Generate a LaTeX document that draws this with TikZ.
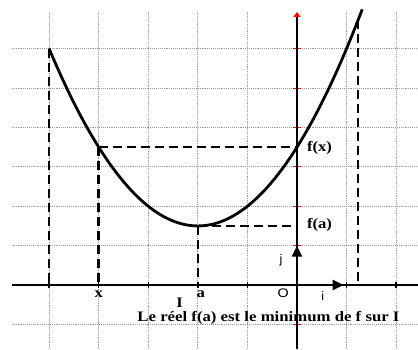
\documentclass[tikz,border=0pt]{standalone}
\usepackage{fontspec}
\usepackage{graphicx}
\setmainfont{Liberation Serif}
\newfontfamily\sansf{Liberation Sans}
\usetikzlibrary{arrows.meta}
\begin{document}
\begin{tikzpicture}[x=49.57bp,y=39.4bp,
  gridline/.style={gray!80,densely dotted,line width=0.9bp},
  axisline/.style={line width=2.4bp,black},
  curveline/.style={line width=2.8bp},
  dashline/.style={line width=2.6bp,dash pattern=on 9bp off 5bp},
  lbl/.style={font=\fontsize{14.5}{14.5}\selectfont\bfseries,inner sep=0pt},
  slbl/.style={font=\sansf\fontsize{12.5}{12.5}\selectfont,inner sep=0pt},
  vec/.style={line width=2.4bp,-{Triangle[length=11bp,width=10bp]}}]
\useasboundingbox (-5.991,-1.624) rectangle (2.441,7.234);
\fill[white] (-5.991,-1.624) rectangle (2.441,7.234);
% grid
\foreach \x in {-5,-4,-3,-2,-1,1,2} \draw[gridline] (\x,-1.624) -- (\x,6.93);
\foreach \y in {-1,1,2,3,4,5,6} \draw[gridline] (-5.75,\y) -- (2.441,\y);
% coordinates
\coordinate (O) at (0,0);
\coordinate (xl) at (-5.75,0);
\coordinate (xr) at (2.441,0);
\coordinate (yb) at (0,-1.624);
\coordinate (yt) at (0,6.93);
\coordinate (A) at (-5,6);
\coordinate (Ax) at (-5,0);
\coordinate (B) at (-4,3.5);
\coordinate (Bx) at (-4,0);
\coordinate (By) at (0,3.5);
\coordinate (M) at (-2,1.5);
\coordinate (Mx) at (-2,0);
\coordinate (My) at (0,1.5);
\coordinate (R) at (1.23,6.73);
\coordinate (Rx) at (1.23,0);
\coordinate (ie) at (0.94,0);
\coordinate (je) at (0,1);
% red ticks on y axis
\foreach \y in {-1,1,2,3,4,5,6} \draw[red,line width=1bp] (-0.08,\y) -- (0.08,\y);
% axes
\draw[axisline] (xl) -- (xr);
\draw[axisline,-{Triangle[length=5bp,width=7bp,color=red,fill=red]}] (yb) -- (yt);
\foreach \x in {-5,-4,-3,-2,-1,1,2} \draw[line width=1.5bp] (\x,-0.07) -- (\x,0.07);
% dashed lines
\draw[dashline] (A) -- (Ax);
\draw[dashline] (B) -- (Bx);
\draw[dashline] (B) -- (By);
\draw[dashline] (M) -- (Mx);
\draw[dashline] (M) -- (My);
\draw[dashline] (R) -- (Rx);
% curve
\draw[curveline,domain=-5:1.317,samples=100,smooth] plot (\x,{1.5+0.5*(\x+2)^2});
% vectors
\draw[vec] (O) -- (ie);
\draw[vec] (O) -- (je);
% labels
\node[lbl,anchor=west] (fx) at (0.2,3.47) {\scalebox{1.15}[1]{f(x)}};
\node[lbl,anchor=west] (fa) at (0.2,1.52) {\scalebox{1.15}[1]{f(a)}};
\node[lbl] (lx) at (-4,-0.23) {\scalebox{1.15}[1]{x}};
\node[lbl] (la) at (-1.94,-0.22) {\scalebox{1.15}[1]{a}};
\node[lbl] (lI) at (-2.37,-0.46) {\scalebox{1.15}[1]{I}};
\node[slbl] (lO) at (-0.28,-0.2) {\scalebox{1.15}[1]{O}};
\node[slbl] (li) at (0.52,-0.28) {i};
\node[slbl] (lj) at (-0.32,0.63) {j};
\node[lbl] (txt) at (-0.575,-0.83) {\scalebox{1.16}[1]{Le réel f(a) est le minimum de f sur I}};
\end{tikzpicture}
\end{document}
